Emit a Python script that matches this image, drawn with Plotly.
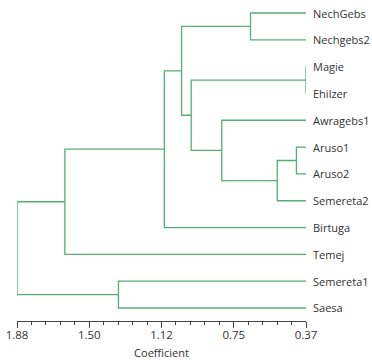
import plotly.graph_objects as go

# Leaves in dendrogram order (top to bottom)
leaves = ["NechGebs", "Nechgebs2", "Magie", "Ehilzer", "Awragebs1", "Aruso1",
          "Aruso2", "Semereta2", "Birtuga", "Temej", "Semereta1", "Saesa"]
# merges: node ids continue after leaves (12, 13, ...)
merge_left = [2, 5, 13, 0, 4, 12, 15, 18, 10, 19, 21]
merge_right = [3, 6, 7, 1, 14, 16, 17, 8, 11, 9, 20]
merge_height = [0.37, 0.42, 0.52, 0.66, 0.81, 0.97, 1.02, 1.11, 1.35, 1.63, 1.88]

tick_vals = [1.88, 1.5025, 1.125, 0.7475, 0.37]
tick_text = ["1.88", "1.50", "1.12", "0.75", "0.37"]
x_min, x_max = 0.37, 1.88

# node positions
pos_y = {i: float(i) for i in range(len(leaves))}
pos_h = {i: x_min for i in range(len(leaves))}
xs, ys = [], []
for k, (a, b, h) in enumerate(zip(merge_left, merge_right, merge_height)):
    nid = len(leaves) + k
    xs += [pos_h[a], h, h, pos_h[b], None]
    ys += [pos_y[a], pos_y[a], pos_y[b], pos_y[b], None]
    pos_y[nid] = (pos_y[a] + pos_y[b]) / 2
    pos_h[nid] = h

fig = go.Figure()
fig.add_trace(go.Scatter(x=xs, y=ys, mode="lines",
                         line=dict(color="#55ad78", width=1.3),
                         hoverinfo="skip", showlegend=False))

for i, name in enumerate(leaves):
    fig.add_annotation(x=x_min, y=i, text=name, showarrow=False,
                       xanchor="left", yanchor="middle", xshift=5,
                       font=dict(family="Open Sans", size=11, color="#333333"))

minor_vals = [x_max - j * (x_max - x_min) / 20 for j in range(21)]

fig.update_layout(
    width=372, height=360,
    margin=dict(l=16.5, r=66, t=0, b=39),
    paper_bgcolor="white", plot_bgcolor="white",
    font=dict(family="Open Sans", size=11, color="#333333"),
    xaxis=dict(range=[x_max, x_min], tickmode="array", tickvals=tick_vals,
               ticktext=tick_text, showgrid=False, zeroline=False,
               showline=True, linecolor="#444444", linewidth=1,
               ticks="outside", ticklen=6, tickcolor="#444444", tickwidth=1,
               ticklabelstandoff=-3,
               minor=dict(tickmode="array", tickvals=minor_vals, ticks="outside",
                          ticklen=3, tickcolor="#444444", tickwidth=1),
               title=dict(text="Coefficient", standoff=8,
                          font=dict(size=11, color="#333333")),
               tickfont=dict(size=11.5, color="#333333")),
    yaxis=dict(range=[11.485, -0.485], visible=False, showgrid=False,
               zeroline=False),
)
fig.write_html("out.html", config={"displayModeBar": False},
               post_script="document.body.style.margin='0';")
